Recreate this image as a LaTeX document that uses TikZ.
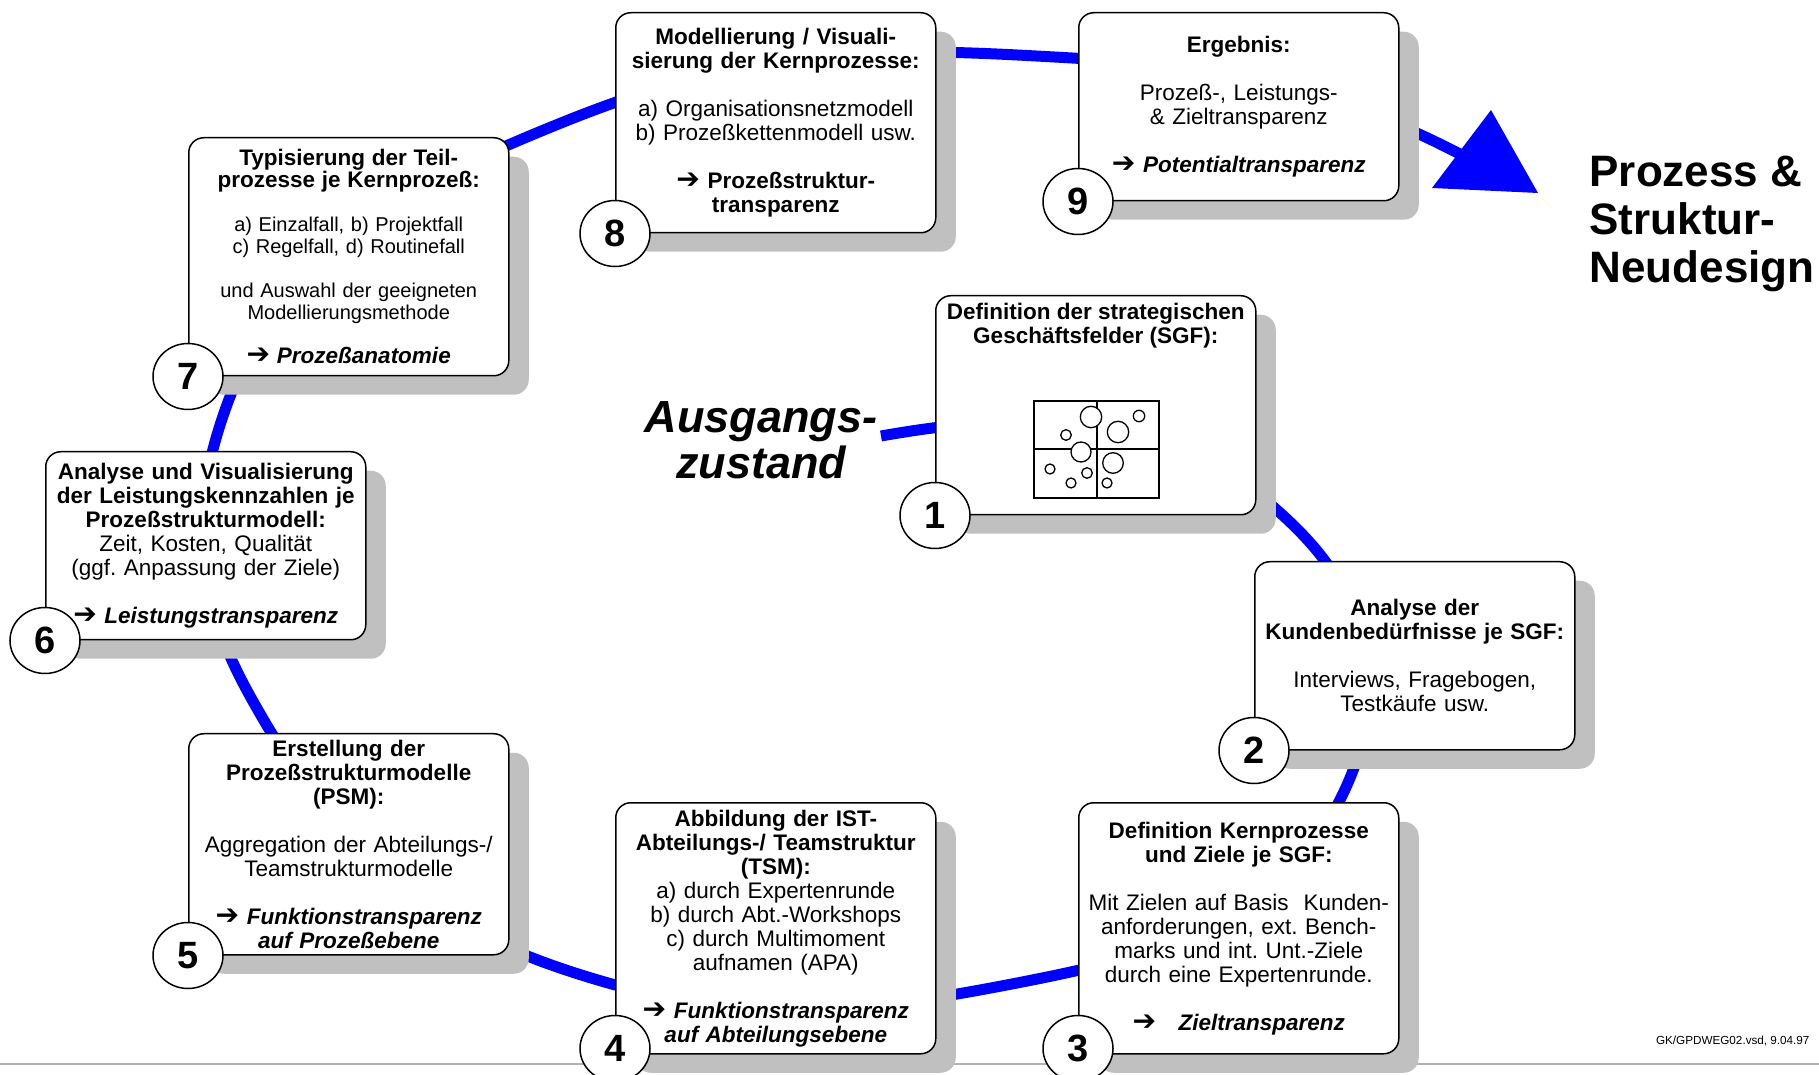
\documentclass[tikz,border=0pt]{standalone}
\usepackage{fontspec}
\setmainfont{Liberation Sans}
\newfontfamily\symbfont{DejaVu Sans}
\usetikzlibrary{shapes.geometric}
\usetikzlibrary{shadows}
\newcommand{\pfeil}{{\normalfont\symbfont\bfseries\scalebox{1.25}{\char"2794}}}
\definecolor{schatten}{RGB}{192,192,192}
\pgfdeclarelayer{bg}
\pgfsetlayers{bg,main}
\frenchspacing

\begin{document}
\begin{tikzpicture}[x = 1pt, y = 1pt,
	box/.style = {draw, fill = white, line width = 1.5pt, rounded corners = 15pt, anchor = north west,
		text width = 310pt, inner xsep = 5pt, align = center, font = \fontsize{22.5}{24}\selectfont,
		drop shadow = {shadow xshift = 20pt, shadow yshift = -19pt, opacity = 1, fill = schatten}},
	num/.style = {ellipse, draw, fill = white, line width = 1.5pt, minimum width = 70pt,
		minimum height = 66pt, inner sep = 0pt, font = \fontsize{38}{38}\selectfont\bfseries},
	bahn/.style = {draw = blue, line width = 11pt}]
	
	\useasboundingbox (0,0) rectangle (1819,1074);
	
	\node[box, minimum height = 219pt] (b1) at (935,779) {};
	\node[box, minimum height = 188pt] (b2) at (1254,513) {{\bfseries Analyse der\\Kundenbed\"urfnisse je SGF:}\\[24pt]Interviews, Fragebogen,\\Testk\"aufe usw.};
	\node[box, minimum height = 251pt] (b3) at (1078,272) {{\bfseries Definition Kernprozesse\\und Ziele je SGF:}\\[24pt]Mit Zielen auf Basis\ \ Kunden-\\anforderungen, ext. Bench-\\marks und int. Unt.-Ziele\\durch eine Expertenrunde.\\[24pt]{\bfseries\itshape \pfeil\quad Zieltransparenz}};
	\node[box, minimum height = 251pt] (b4) at (615,272) {{\bfseries Abbildung der IST-\\Abteilungs-/ Teamstruktur\\(TSM):}\\a) durch Expertenrunde\\b) durch Abt.-Workshops\\c) durch Multimoment\\aufnamen (APA)\\[24pt]{\bfseries\itshape \pfeil{} Funktionstransparenz\\auf Abteilungsebene}};
	\node[box, minimum height = 221pt] (b5) at (188,341) {{\bfseries Erstellung der\\Proze\ss strukturmodelle\\(PSM):}\\[24pt]Aggregation der Abteilungs-/\\Teamstrukturmodelle\\[24pt]{\bfseries\itshape \pfeil{} Funktionstransparenz\\auf Proze\ss ebene}};
	\node[box, minimum height = 188pt] (b6) at (45,623) {{\bfseries Analyse und Visualisierung\\der Leistungskennzahlen je\\Proze\ss strukturmodell:}\\Zeit, Kosten, Qualit\"at\\(ggf. Anpassung der Ziele)\\[24pt]{\bfseries\itshape \pfeil{} Leistungstransparenz}};
	\node[box, minimum height = 238pt, font = \fontsize{20}{22}\selectfont] (b7) at (188,937) {{\bfseries\fontsize{22.5}{22}\selectfont Typisierung der Teil-\\prozesse je Kernproze\ss :}\\[22pt]a) Einzalfall, b) Projektfall\\c) Regelfall, d) Routinefall\\[22pt]und Auswahl der geeigneten\\Modellierungsmethode\\[22pt]{\bfseries\itshape\fontsize{22.5}{22}\selectfont \pfeil{} Proze\ss anatomie}};
	\node[box, minimum height = 220pt] (b8) at (615,1062) {{\bfseries Modellierung / Visuali-\\sierung der Kernprozesse:}\\[24pt]a) Organisationsnetzmodell\\b) Proze\ss kettenmodell usw.\\[24pt]{\bfseries \pfeil{} Proze\ss struktur-\\transparenz}};
	\node[box, minimum height = 188pt] (b9) at (1078,1062) {{\bfseries Ergebnis:}\\[24pt]Proze\ss -, Leistungs-\\\& Zieltransparenz\\[24pt]{\bfseries\itshape \pfeil{} Potentialtransparenz}};
	
	\node[anchor = north, font = \fontsize{22.5}{24}\selectfont\bfseries, align = center] (b1t) at ([yshift = -5pt]b1.north) {Definition der strategischen\\Gesch\"aftsfelder (SGF):};
	
	% SGF-Portfolio
	\draw[line width = 1.5pt] (1034,576) rectangle (1159,673);
	\draw[line width = 1.5pt] (1097,576) -- (1097,673) (1034,625) -- (1159,625);
	\foreach \x/\y/\r in {1091/657/10.7, 1139/658/5.7, 1118/642/10.7, 1066/639/5.3, 1081/622/10,
		1113/611/10.3, 1050/605/5, 1087/601/5.3, 1071/591/5, 1107/591/5}
		\draw[line width = 1.3pt, fill = white] (\x,\y) circle (\r);
	
	\foreach \n in {1,2,5,6,7,8,9}
		\node[num] (n\n) at (b\n.south west) {\n};
	\foreach \n in {3,4}
		\node[num] (n\n) at ([yshift = 6pt]b\n.south west) {\n};
	
	\node[font = \fontsize{45}{46}\selectfont\bfseries\itshape, align = center] (aus) at (761,634) {Ausgangs-\\zustand};
	\node[font = \fontsize{44}{48}\selectfont\bfseries, align = left, anchor = west] (neu) at (1586,850) {Prozess \&\\Struktur-\\Neudesign};
	\node[anchor = east, font = \fontsize{11.7}{12}\selectfont] (datei) at (1813,33) {GK/GPDWEG02.vsd, 9.04.97};
	
	\coordinate (s0) at (881,638);
	\coordinate (g12) at (1302,540);
	\coordinate (g23) at (1347,289);
	\coordinate (g34) at (1017,91);
	\coordinate (g45) at (572,102);
	\coordinate (g56) at (250,378);
	\coordinate (g67) at (221,652);
	\coordinate (g78) at (561,951);
	\coordinate (g89) at (1017,1019);
	\coordinate (g9e) at (1440,930);
	\coordinate (spitze) at (1470,915);
	
	\begin{pgfonlayer}{bg}
		\draw[gray!60, line width = 1.5pt] (0,10) -- (1819,10);
		\draw[bahn] (s0) to[out = 10, in = 134] (g12) to[out = -46, in = 66] (g23)
			to[out = -114, in = 11] (g34) to[out = 191, in = -18] (g45)
			to[out = 162, in = -61] (g56) to[out = 119, in = -108] (g67)
			to[out = 72, in = -158] (g78) to[out = 22, in = 177] (g89)
			to[out = -3, in = 154] (g9e) -- (spitze);
		\fill[blue] (1491,964) -- (1432,886) -- (1538,881) -- cycle;
	\end{pgfonlayer}
\end{tikzpicture}
\end{document}
